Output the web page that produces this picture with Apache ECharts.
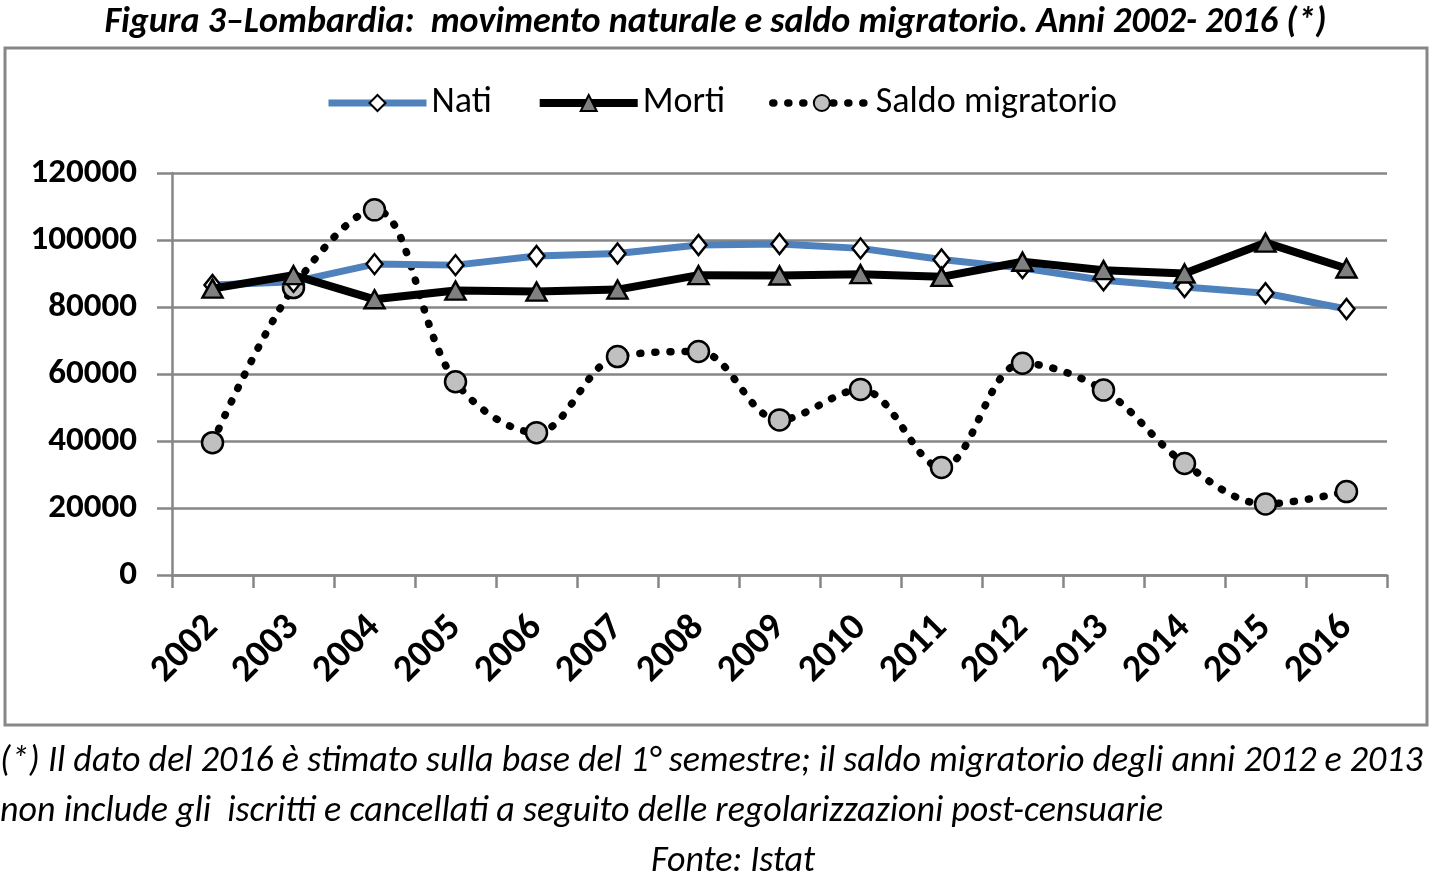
<!DOCTYPE html>
<html><head><meta charset="utf-8">
<style>html,body{margin:0;padding:0;background:#fff}#c{width:1431px;height:879px}</style>
<script src="https://cdn.jsdelivr.net/npm/echarts@6/dist/echarts.min.js"></script>
</head><body><div id="c"></div>
<script>
const years = ['2002','2003','2004','2005','2006','2007','2008','2009','2010','2011','2012','2013','2014','2015','2016'];
const nati = [86600,87500,92800,92500,95200,96000,98500,98800,97500,94200,91600,88000,86000,84100,79400];
const morti = [85500,89500,82300,84900,84600,85200,89500,89400,89800,89000,93500,91000,90000,99200,91500];
const saldo = [39500,85800,109000,57700,42500,65200,66700,46300,55400,32100,63200,55200,33300,21200,24900];
const yTicks = [0,20000,40000,60000,80000,100000,120000];

const FONT = "Carlito, 'Liberation Sans Narrow', 'Open Sans', sans-serif";
const chart = echarts.init(document.getElementById('c'));
chart.setOption({
  backgroundColor:'#fff',
  animation:false,
  textStyle:{fontFamily:FONT},
  title:{
    text:'Figura 3\u2013Lombardia:  movimento naturale e saldo migratorio. Anni 2002- 2016 (*)',
    left:'center', top:0,
    textStyle:{fontFamily:FONT,fontSize:36,fontWeight:'bold',fontStyle:'italic',color:'#000'}
  },
  graphic:[
    {type:'rect',shape:{x:5,y:48,width:1422,height:677},style:{fill:'none',stroke:'#878787',lineWidth:3},z:-1},
    {type:'text',style:{x:0,y:762,verticalAlign:'middle',text:'(*) Il dato del 2016 \u00e8 stimato sulla base del 1\u00b0 semestre; il saldo migratorio degli anni 2012 e 2013',font:'italic 36px '+FONT,fill:'#000'}},
    {type:'text',style:{x:0,y:812,verticalAlign:'middle',text:'non include gli  iscritti e cancellati a seguito delle regolarizzazioni post-censuarie',font:'italic 36px '+FONT,fill:'#000'}},
    {type:'text',style:{x:733,y:862,align:'center',verticalAlign:'middle',text:'Fonte: Istat',font:'italic 36px '+FONT,fill:'#000'}}
  ],
  legend:{
    top:80, left:320, itemGap:44, itemWidth:98, itemHeight:20,
    lineStyle:{width:'inherit'},
    textStyle:{fontFamily:FONT,fontSize:36,color:'#000'},
    data:['Nati','Morti','Saldo migratorio']
  },
  grid:{left:172,right:44,top:173,bottom:304,containLabel:false},
  xAxis:{
    type:'category', data:years, boundaryGap:true,
    axisLine:{lineStyle:{color:'#868686',width:2.5}},
    axisTick:{show:true,length:13,lineStyle:{color:'#868686',width:2.5}},
    axisLabel:{rotate:45,fontSize:38,fontWeight:'bold',color:'#000',margin:47,fontFamily:FONT}
  },
  yAxis:{
    type:'value', min:0, max:120000, interval:20000,
    axisLine:{show:true,lineStyle:{color:'#868686',width:2.5}},
    axisTick:{show:true,length:15,lineStyle:{color:'#868686',width:2.5}},
    splitLine:{lineStyle:{color:'#868686',width:2.5}},
    axisLabel:{fontSize:35,fontWeight:'bold',color:'#000',margin:35,fontFamily:FONT,
      formatter:function(v){return String(v);}}
  },
  series:[
    {name:'Saldo migratorio',type:'line',data:saldo,smooth:0.35,z:2,
     lineStyle:{color:'#000',width:7.5,type:[1,14],cap:'round'},
     symbol:'circle',symbolSize:21,
     itemStyle:{color:'#c0c0c0',borderColor:'#000',borderWidth:2.5}},
    {name:'Nati',type:'line',data:nati,z:3,
     lineStyle:{color:'#4f81bd',width:7},
     symbol:'diamond',symbolSize:[16,20],
     itemStyle:{color:'#fff',borderColor:'#000',borderWidth:2.5}},
    {name:'Morti',type:'line',data:morti,z:4,
     lineStyle:{color:'#000',width:8},
     symbol:'triangle',symbolSize:[20,18],
     itemStyle:{color:'#808080',borderColor:'#000',borderWidth:2.5}}
  ]
});
</script></body></html>
